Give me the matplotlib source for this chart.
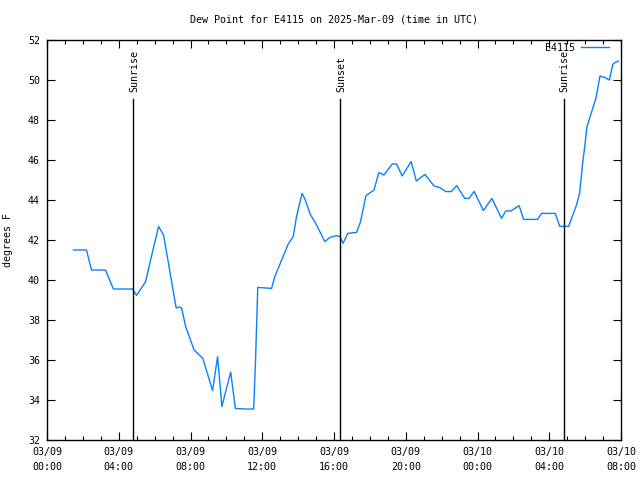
import matplotlib
matplotlib.use("Agg")
import matplotlib.pyplot as plt
from matplotlib.ticker import MultipleLocator

# Hours since 2025-03-09 00:00 UTC
hours = [1.47, 2.2, 2.48, 3.26, 3.7, 4.77, 4.99, 5.49, 5.75, 6.22, 6.5, 7.2, 7.39, 7.5,
         7.73, 8.2, 8.69, 9.23, 9.51, 9.75, 10.24, 10.5, 11.0, 11.52, 11.62, 11.75, 12.52,
         12.7, 13.45, 13.73, 13.91, 14.22, 14.4, 14.69, 14.93, 15.49, 15.77, 16.14, 16.33,
         16.5, 16.77, 17.26, 17.48,
         17.78, 18.23, 18.5, 18.78, 19.25, 19.49, 19.8, 20.3, 20.59, 21.07, 21.58, 21.91,
         22.23, 22.54, 22.84, 23.29, 23.53, 23.81, 24.33, 24.8, 25.34, 25.58, 25.86, 26.32,
         26.57, 27.35, 27.57, 28.33, 28.59, 29.08, 29.52, 29.69, 29.86, 29.99, 30.1, 30.23,
         30.6, 30.83, 31.1, 31.35, 31.54, 31.68, 31.85]
dewpoint = [41.5, 41.5, 40.5, 40.5, 39.55, 39.55, 39.23, 39.9, 40.9, 42.68, 42.25, 38.6, 38.65, 38.6,
            37.67, 36.5, 36.08, 34.47, 36.17, 33.67, 35.4, 33.58, 33.55, 33.55, 35.83, 39.63, 39.58,
            40.17, 41.8, 42.17, 43.17, 44.33, 44.0, 43.25, 42.92, 41.92, 42.13, 42.22, 42.17,
            41.83, 42.33, 42.38, 42.92,
            44.22, 44.5, 45.37, 45.25, 45.8, 45.8, 45.2, 45.92, 44.95, 45.28, 44.7, 44.62,
            44.42, 44.42, 44.72, 44.08, 44.08, 44.43, 43.47, 44.08, 43.08, 43.45, 43.45, 43.72,
            43.03, 43.03, 43.33, 43.33, 42.68, 42.68, 43.75, 44.33, 45.83, 46.75, 47.67, 48.03,
            49.08, 50.2, 50.12, 50.0, 50.78, 50.88, 50.95]

event_hours = [4.8, 16.35, 28.8]
event_labels = ["Sunrise", "Sunset", "Sunrise"]

xtick_hours = [0, 4, 8, 12, 16, 20, 24, 28, 32]
xtick_labels = ["03/09\n00:00", "03/09\n04:00", "03/09\n08:00", "03/09\n12:00",
                "03/09\n16:00", "03/09\n20:00", "03/10\n00:00", "03/10\n04:00",
                "03/10\n08:00"]
yticks = [32, 34, 36, 38, 40, 42, 44, 46, 48, 50, 52]

FONT = "DejaVu Sans Mono"
FS = 7.2

fig = plt.figure(figsize=(6.4, 4.8), dpi=100)
ax = fig.add_axes([47/640, 40/480, (621-47)/640, 400/480])

ax.plot(hours, dewpoint, color="#0a80ff", lw=1.0, label="E4115")

for h, lab in zip(event_hours, event_labels):
    ax.plot([h, h], [49.05, 32], color="black", lw=1.0)
    ax.text(h + 0.05, 49.4, lab, rotation=90, ha="center", va="bottom",
            fontsize=FS, family=FONT)

ax.set_xlim(0, 32)
ax.set_ylim(32, 52)
ax.set_xticks(xtick_hours)
ax.set_xticklabels(xtick_labels, fontsize=FS, family=FONT, linespacing=1.6)
ax.xaxis.set_minor_locator(MultipleLocator(1))
ax.set_yticks(yticks)
ax.set_yticklabels([str(v) for v in yticks], fontsize=FS, family=FONT)

ax.tick_params(axis="both", which="major", direction="in", length=6, width=0.8,
               top=True, right=True, pad=5)
ax.tick_params(axis="both", which="minor", direction="in", length=3, width=0.8,
               top=True, right=True)
for s in ax.spines.values():
    s.set_linewidth(1.0)

ax.set_ylabel("degrees F", fontsize=FS, family=FONT, labelpad=11)
fig.text(334/640, 1 - 20/480, "Dew Point for E4115 on 2025-Mar-09 (time in UTC)",
         ha="center", va="center", fontsize=FS, family=FONT)

leg = ax.legend(loc="center right", bbox_to_anchor=(0.979, 0.98), frameon=False,
                markerfirst=False, prop={"family": FONT, "size": FS},
                handlelength=2.8, borderpad=0, borderaxespad=0, handletextpad=0.6)

fig.savefig("out.png", dpi=100)
